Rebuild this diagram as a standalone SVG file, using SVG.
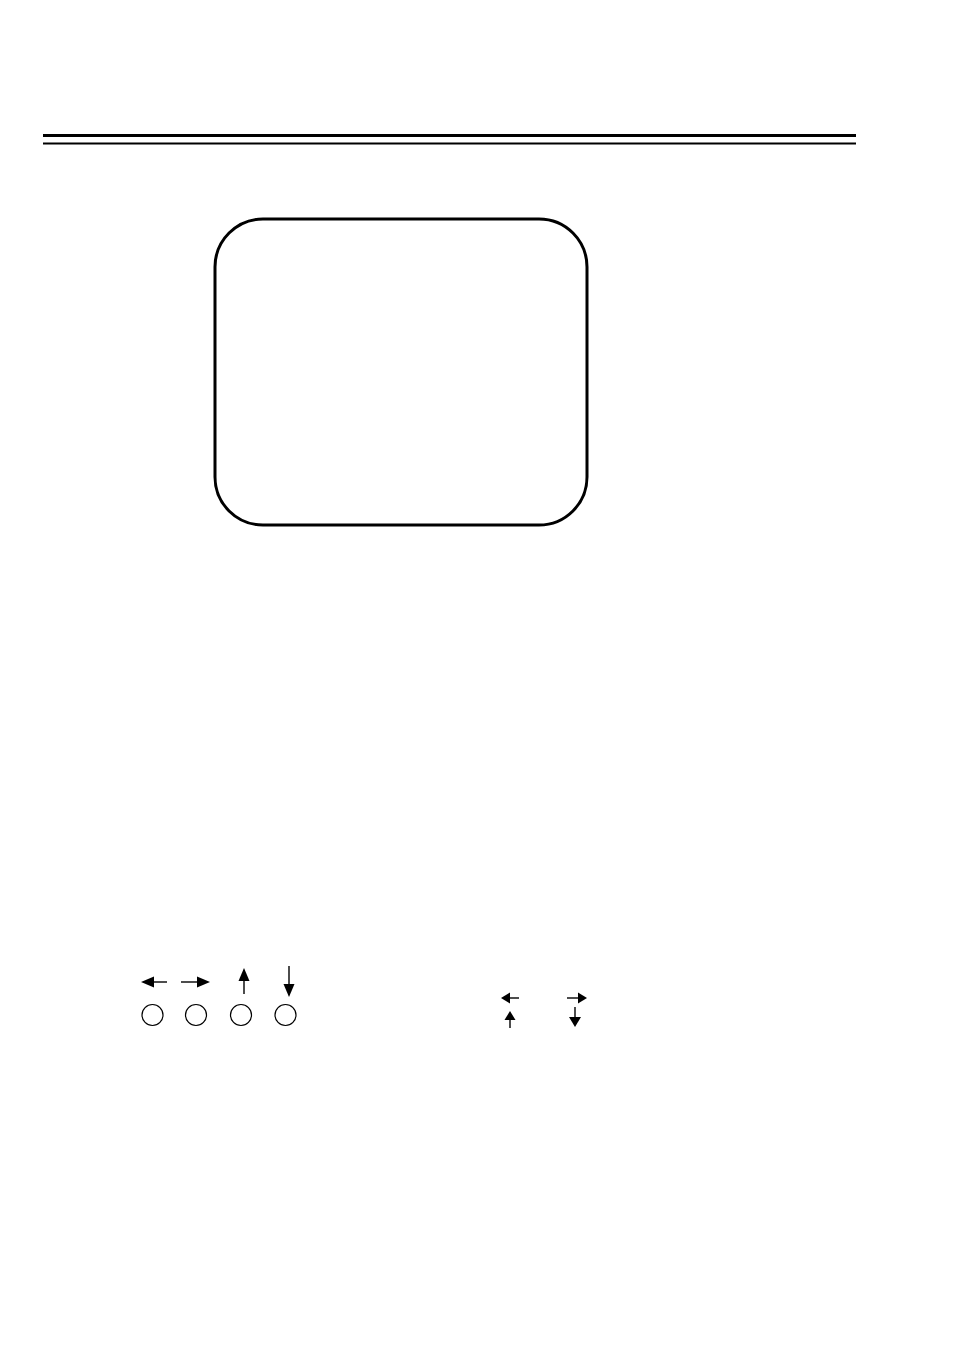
<svg xmlns="http://www.w3.org/2000/svg" width="954" height="1348" viewBox="0 0 954 1348">
<style>
.ln{stroke:#000;fill:none}
.c{stroke:#000;stroke-width:1.2;fill:#fff}
.a{stroke:#000;stroke-width:1.4;fill:none}
.h{fill:#000}
</style>
<rect width="954" height="1348" fill="#fff"/>
<g id="rules">
<line class="ln" x1="43" y1="135.5" x2="856" y2="135.5" stroke-width="3.2"/>
<line class="ln" x1="43" y1="143.5" x2="856" y2="143.5" stroke-width="2"/>
</g>
<g id="screen">
<rect x="215" y="219" width="372" height="306" rx="48" ry="48" class="ln" stroke-width="3"/>
</g>
<g id="buttons">
<circle class="c" cx="152.5" cy="1015" r="10.5"/>
<circle class="c" cx="196" cy="1015" r="10.5"/>
<circle class="c" cx="241" cy="1015" r="10.5"/>
<circle class="c" cx="285.5" cy="1015" r="10.5"/>
</g>
<g id="connectors">
<line class="a" x1="153" y1="982" x2="167" y2="982"/>
<polygon class="h" points="141,982 154,976.5 154,987.5"/>
<line class="a" x1="181" y1="982" x2="197" y2="982"/>
<polygon class="h" points="210,982 197,976.5 197,987.5"/>
<line class="a" x1="244" y1="980" x2="244" y2="994"/>
<polygon class="h" points="244,968 238.5,981 249.5,981"/>
<line class="a" x1="289" y1="966" x2="289" y2="984"/>
<polygon class="h" points="289,997 283.5,984 294.5,984"/>
<line class="a" x1="509" y1="998" x2="519" y2="998"/>
<polygon class="h" points="501,998 510,992.5 510,1003.5"/>
<line class="a" x1="567" y1="998" x2="578" y2="998"/>
<polygon class="h" points="587,998 578,992.5 578,1003.5"/>
<line class="a" x1="510" y1="1019" x2="510" y2="1028"/>
<polygon class="h" points="510,1011 504.5,1020 515.5,1020"/>
<line class="a" x1="575" y1="1007" x2="575" y2="1018"/>
<polygon class="h" points="575,1027 569,1017 581,1017"/>
</g>
</svg>
